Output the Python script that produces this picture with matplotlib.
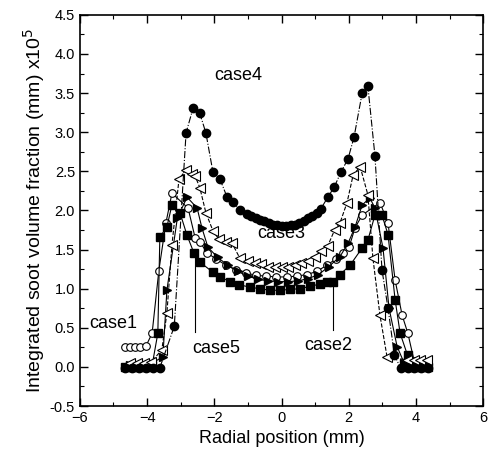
import matplotlib
matplotlib.use('Agg')
import matplotlib.pyplot as plt
from matplotlib.ticker import MultipleLocator

plt.rcParams['font.family'] = ['Liberation Sans', 'DejaVu Sans']

# case4 - filled circles
x4 = [-4.66, -4.45, -4.24, -4.03, -3.82, -3.62, -3.19, -2.84, -2.63, -2.43, -2.25,
      -2.04, -1.83, -1.62, -1.44, -1.24, -1.03, -0.90, -0.77, -0.64, -0.51, -0.38,
      -0.25, -0.12, 0.01, 0.14, 0.27, 0.40, 0.53, 0.66, 0.79, 0.92, 1.05, 1.17,
      1.38, 1.57, 1.77, 1.98, 2.16, 2.40, 2.57,
      2.78, 2.99, 3.17, 3.36, 3.55, 3.75, 3.95, 4.15, 4.35]
y4 = [-0.02, -0.02, -0.02, -0.02, -0.02, -0.01, 0.52, 2.99, 3.31, 3.24, 2.99,
      2.49, 2.40, 2.17, 2.11, 2.00, 1.96, 1.93, 1.90, 1.88, 1.86, 1.84,
      1.82, 1.81, 1.80, 1.80, 1.81, 1.82, 1.84, 1.87, 1.90, 1.93, 1.97, 2.02,
      2.17, 2.30, 2.49, 2.66, 2.94, 3.50, 3.59,
      2.70, 1.24, 0.75, 0.15, -0.02, -0.02, -0.02, -0.02, -0.02]

# case3 - open left triangles
x3 = [-4.51, -4.30, -4.09, -3.88, -3.56, -3.41, -3.26, -3.05, -2.84, -2.66, -2.57,
      -2.43, -2.25, -2.04, -1.86, -1.65, -1.47, -1.24, -1.00, -0.79, -0.61, -0.40,
      -0.19, 0.00, 0.19, 0.40, 0.58, 0.79, 1.00, 1.18, 1.38, 1.58, 1.74, 1.95, 2.13,
      2.34, 2.57, 2.72, 2.93, 3.14, 3.74, 3.94, 4.12, 4.33]
y3 = [0.05, 0.05, 0.05, 0.06, 0.22, 0.69, 1.56, 2.40, 2.52, 2.47, 2.44,
      2.29, 1.97, 1.74, 1.63, 1.60, 1.58, 1.39, 1.36, 1.33, 1.31, 1.28,
      1.28, 1.28, 1.28, 1.30, 1.33, 1.36, 1.41, 1.48, 1.55, 1.75, 1.84, 2.10, 2.45,
      2.56, 2.20, 1.39, 0.66, 0.13, 0.09, 0.09, 0.09, 0.09]

# case1 - open circles
x1 = [-4.66, -4.51, -4.36, -4.21, -4.03, -3.85, -3.65, -3.44, -3.26, -2.78, -2.57,
      -2.43, -2.22, -1.95, -1.65, -1.35, -1.05, -0.75, -0.45, -0.15, 0.15, 0.45,
      0.75, 1.05, 1.35, 1.62, 1.82, 2.01, 2.19, 2.40, 2.93, 3.17, 3.38, 3.59, 3.76,
      3.95, 4.15, 4.35]
y1 = [0.26, 0.26, 0.26, 0.26, 0.27, 0.43, 1.23, 1.84, 2.22, 2.03, 1.65,
      1.60, 1.46, 1.38, 1.30, 1.24, 1.20, 1.17, 1.16, 1.15, 1.15, 1.16,
      1.18, 1.22, 1.30, 1.38, 1.45, 1.53, 1.78, 1.94, 2.10, 1.84, 1.11, 0.66, 0.43,
      0.07, 0.06, 0.06]

# case2 - filled squares
x2 = [-4.66, -4.45, -4.24, -4.03, -3.85, -3.68, -3.62, -3.41, -3.26, -3.02, -2.81,
      -2.60, -2.43, -2.04, -1.83, -1.53, -1.25, -0.95, -0.65, -0.35, -0.05, 0.25,
      0.55, 0.85, 1.15, 1.35, 1.53, 1.74, 2.04, 2.40, 2.57, 2.78, 2.99, 3.17, 3.38,
      3.53, 3.75, 3.95, 4.15, 4.35]
y2 = [0.00, 0.00, 0.00, 0.00, 0.02, 0.43, 1.66, 1.79, 2.07, 1.97, 1.68,
      1.45, 1.34, 1.21, 1.15, 1.09, 1.05, 1.02, 1.00, 0.98, 0.98, 0.99,
      1.00, 1.03, 1.06, 1.08, 1.09, 1.18, 1.30, 1.52, 1.62, 1.94, 1.94, 1.69, 0.86,
      0.43, 0.15, 0.00, 0.00, 0.00]

# case5 - filled right triangles
x5 = [-4.51, -4.30, -4.09, -3.88, -3.53, -3.41, -3.10, -2.81, -2.51, -2.37, -2.19,
      -1.90, -1.60, -1.30, -1.00, -0.70, -0.40, -0.10, 0.20, 0.50, 0.80, 1.10,
      1.40, 1.74, 1.98, 2.19, 2.40, 2.63, 2.78, 3.02, 3.20, 3.44, 3.65, 3.85, 4.05]
y5 = [0.02, 0.02, 0.03, 0.04, 0.13, 0.98, 1.90, 2.17, 2.03, 1.78, 1.53,
      1.40, 1.30, 1.22, 1.16, 1.12, 1.10, 1.09, 1.09, 1.10, 1.13, 1.18,
      1.28, 1.41, 1.58, 1.79, 2.07, 2.16, 2.03, 1.52, 0.75, 0.26, 0.05, 0.03, 0.03]

fig = plt.figure(figsize=(4.93, 4.63), dpi=100)
ax = fig.add_axes([0.162, 0.123, 0.818, 0.845])

kw = dict(color='black', lw=0.8)
ax.plot(x1, y1, marker='o', ms=5.5, mfc='white', mec='black', mew=0.8, **kw)
ax.plot(x2, y2, marker='s', ms=5.5, mfc='black', mec='black', **kw)
ax.plot(x5, y5, marker='>', ms=6, mfc='black', mec='black', **kw)
ax.plot(x3, y3, marker='<', ms=6.5, mfc='white', mec='black', mew=0.8, ls='--', color='black', lw=0.8)
ax.plot(x4, y4, marker='o', ms=6, mfc='black', mec='black', ls='-.', color='black', lw=0.8)

# pointer lines for labels
ax.plot([-2.58, -2.58], [1.45, 0.44], color='black', lw=0.8)
ax.plot([1.53, 1.53], [1.07, 0.47], color='black', lw=0.8)

ax.text(-1.3, 3.73, 'case4', fontsize=13, ha='center', va='center')
ax.text(0.0, 1.71, 'case3', fontsize=13, ha='center', va='center')
ax.text(-5.02, 0.56, 'case1', fontsize=13, ha='center', va='center')
ax.text(-1.93, 0.24, 'case5', fontsize=13, ha='center', va='center')
ax.text(1.38, 0.28, 'case2', fontsize=13, ha='center', va='center')

ax.set_xlim(-6, 6)
ax.set_ylim(-0.5, 4.5)
ax.xaxis.set_major_locator(MultipleLocator(2))
ax.xaxis.set_minor_locator(MultipleLocator(1))
ax.yaxis.set_major_locator(MultipleLocator(0.5))
ax.yaxis.set_minor_locator(MultipleLocator(0.25))
ax.tick_params(which='both', direction='in', top=True, right=True,
               labeltop=False, labelright=False, labelsize=10.5)
ax.tick_params(which='major', length=6, width=1)
ax.tick_params(which='minor', length=3, width=0.8)
ax.yaxis.set_major_formatter(plt.FormatStrFormatter('%.1f'))
for s in ax.spines.values():
    s.set_linewidth(1.2)

ax.set_xlabel('Radial position (mm)', fontsize=13)
ax.set_ylabel('Integrated soot volume fraction (mm) x10$^5$', fontsize=14, labelpad=2)

fig.savefig('out.png', dpi=100)
